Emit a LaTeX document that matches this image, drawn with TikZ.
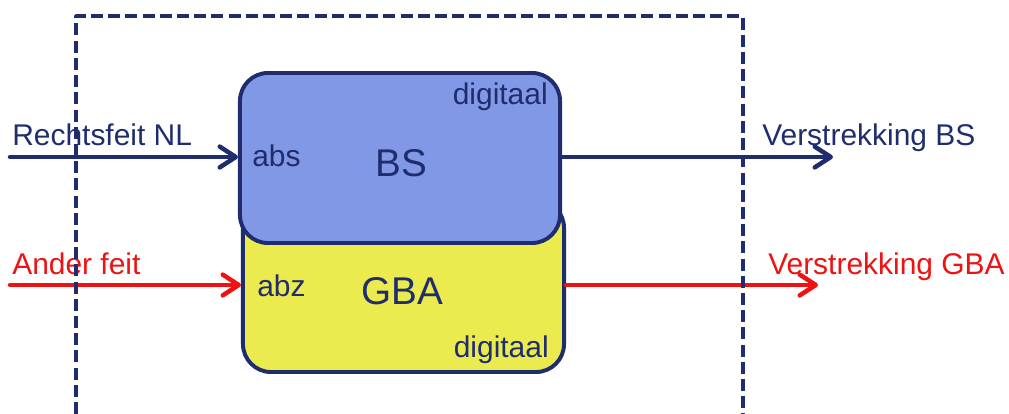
\documentclass[tikz,border=0pt]{standalone}
\usepackage{fontspec}
\setmainfont{Liberation Sans}
\usetikzlibrary{arrows.meta}
\definecolor{navy}{HTML}{1F2D6E}
\definecolor{boxblue}{HTML}{8198E6}
\definecolor{boxyellow}{HTML}{EBEB4F}
\definecolor{feitred}{HTML}{EE1212}
\newcommand{\labelfont}{\fontsize{21.3}{24}\selectfont}
\newcommand{\namefont}{\fontsize{27.5}{30}\selectfont}
\tikzset{
  regbox/.style={draw=navy, line width=2.8pt, rounded corners=0.7cm,
    minimum width=8cm, minimum height=4.25cm, inner sep=0pt},
  txt/.style={inner sep=0pt, text=navy, font=\labelfont},
  flow/.style={line width=3.2pt, -{Straight Barb[length=4mm,width=5.2mm,round]}}
}

\begin{document}
\begin{tikzpicture}[line cap=round,line join=round,x=0.025cm,y=0.025cm]
    \useasboundingbox (0,0) rectangle (1009,414);

    % Registrations, GBA lies behind BS
    \draw(403.5,128) node[regbox, fill=boxyellow, minimum width=8.025cm, minimum height=4.3cm] (GBA) {};
    \draw(400,256) node[regbox, fill=boxblue] (BS) {};

    % Texts inside the boxes
    \node[txt, anchor=base west] (abs) at (252,247) {abs};
    \node[txt, anchor=base west] (abz) at (257,117) {abz};
    \node[txt, anchor=base, font=\namefont] (bsname) at (401,237) {BS};
    \node[txt, anchor=base, font=\namefont] (gbaname) at (402,109) {GBA};
    \node[txt, anchor=base east] (digBS) at (548,309) {digitaal};
    \node[txt, anchor=base east] (digGBA) at (549,56) {digitaal};

    % Ends of the flows
    \coordinate (inBS) at (10,257);
    \coordinate (outBS) at (833,257);
    \coordinate (inGBA) at (10,129);
    \coordinate (outGBA) at (818,129);

    % Flows in and out
    \draw[flow, navy] (inBS) -- (inBS -| BS.west);
    \draw[flow, navy] (BS.east |- outBS) -- (outBS);
    \draw[flow, feitred] (inGBA) -- (inGBA -| GBA.west);
    \draw[flow, feitred] (GBA.east |- outGBA) -- (outGBA);

    % Flow labels
    \node[txt, anchor=base west] (rechtsfeit) at (12,268) {Rechtsfeit NL};
    \node[txt, anchor=base west, text=feitred] (anderfeit) at (12,139) {Ander feit};
    \node[txt, anchor=base west] (verstrBS) at (762,268) {Verstrekking BS};
    \node[txt, anchor=base west, text=feitred] (verstrGBA) at (768,139) {Verstrekking GBA};

    % Frame, open at the bottom
    \draw[navy, line width=2.6pt, line cap=butt, dash pattern=on 3mm off 1.3mm]
        (76,0) -- (76,398) -- (743,398) -- (743,0);
\end{tikzpicture}
\end{document}
